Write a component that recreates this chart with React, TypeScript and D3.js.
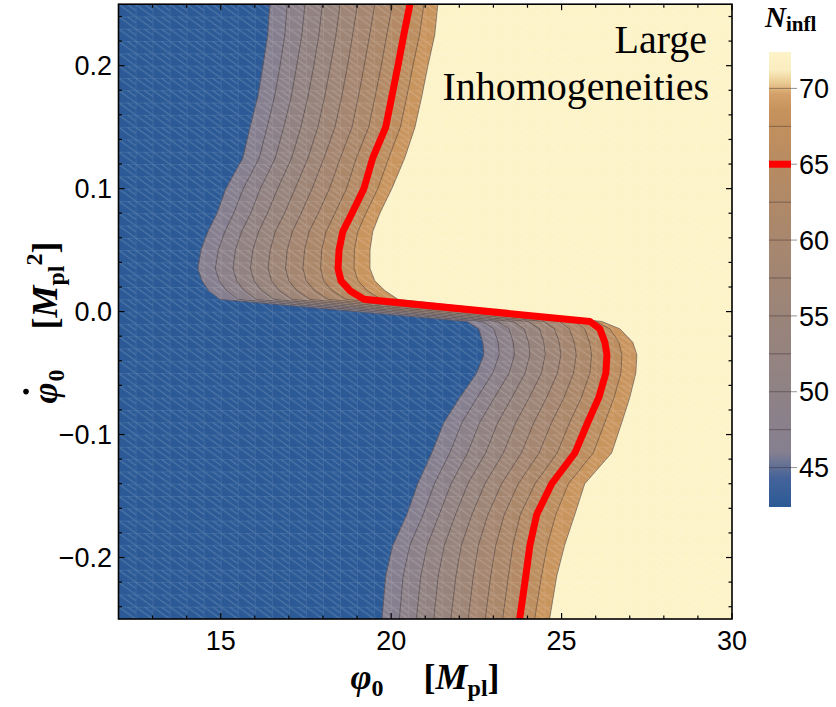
import * as d3 from "d3";

// phi-dot_0 rows (top to bottom) at which every contour's phi_0 position was read
const phiDot0 = [0.25, 0.225, 0.2, 0.175, 0.15, 0.125, 0.1, 0.08, 0.065, 0.05, 0.035, 0.025, 0.017, 0.01,
  -0.008, -0.014, -0.025, -0.035, -0.05, -0.07, -0.09, -0.115, -0.14, -0.165, -0.19, -0.215, -0.25];

// phi_0 position of each N_infl contour, one value per row above
const n45 = [16.44, 16.38, 16.24, 16.09, 15.86, 15.65, 15.15, 14.89, 14.62, 14.42, 14.33, 14.45, 14.65, 14.98,
  22.22, 22.57, 22.69, 22.72, 22.51, 22.01, 21.55, 21.19, 20.78, 20.46, 20.05, 19.84, 19.73];
const n47_5 = [16.95, 16.88, 16.74, 16.58, 16.36, 16.13, 15.66, 15.38, 15.12, 14.93, 14.84, 14.96, 15.17, 15.51,
  22.67, 23.01, 23.14, 23.17, 22.98, 22.52, 22.08, 21.72, 21.27, 20.94, 20.55, 20.35, 20.24];
const n50 = [17.47, 17.38, 17.23, 17.07, 16.85, 16.6, 16.16, 15.88, 15.61, 15.43, 15.36, 15.47, 15.69, 16.04,
  23.12, 23.46, 23.58, 23.62, 23.46, 23.03, 22.6, 22.24, 21.76, 21.41, 21.06, 20.87, 20.74];
const n52_5 = [17.98, 17.88, 17.73, 17.56, 17.35, 17.08, 16.67, 16.37, 16.11, 15.94, 15.87, 15.98, 16.2, 16.56,
  23.57, 23.9, 24.03, 24.07, 23.93, 23.54, 23.13, 22.77, 22.25, 21.89, 21.56, 21.38, 21.25];
const n55 = [18.5, 18.38, 18.22, 18.05, 17.85, 17.56, 17.18, 16.87, 16.6, 16.45, 16.39, 16.49, 16.72, 17.09,
  24.03, 24.35, 24.48, 24.52, 24.41, 24.05, 23.66, 23.29, 22.75, 22.37, 22.06, 21.9, 21.75];
const n57_5 = [19.01, 18.87, 18.72, 18.55, 18.35, 18.03, 17.68, 17.36, 17.1, 16.95, 16.9, 17.0, 17.24, 17.62,
  24.48, 24.79, 24.93, 24.98, 24.88, 24.56, 24.19, 23.82, 23.24, 22.84, 22.56, 22.41, 22.26];
const n60 = [19.52, 19.37, 19.21, 19.04, 18.85, 18.51, 18.19, 17.86, 17.59, 17.46, 17.41, 17.51, 17.76, 18.15,
  24.93, 25.23, 25.37, 25.43, 25.35, 25.07, 24.71, 24.34, 23.73, 23.32, 23.07, 22.92, 22.76];
const n62_5 = [20.04, 19.87, 19.71, 19.53, 19.34, 18.98, 18.69, 18.35, 18.09, 17.96, 17.93, 18.02, 18.27, 18.67,
  25.38, 25.68, 25.82, 25.88, 25.83, 25.58, 25.24, 24.87, 24.22, 23.79, 23.57, 23.44, 23.27];
const n65 = [20.55, 20.37, 20.2, 20.02, 19.84, 19.46, 19.2, 18.85, 18.58, 18.47, 18.44, 18.53, 18.79, 19.2,
  25.83, 26.12, 26.27, 26.33, 26.3, 26.09, 25.77, 25.39, 24.71, 24.27, 24.07, 23.95, 23.77];
const n67_5 = [20.96, 20.83, 20.64, 20.46, 20.27, 19.93, 19.61, 19.26, 19.02, 18.92, 18.91, 19.03, 19.3, 19.7,
  26.0, 26.42, 26.68, 26.77, 26.74, 26.54, 26.27, 25.93, 25.2, 24.83, 24.58, 24.41, 24.21];
const n70 = [21.37, 21.28, 21.08, 20.9, 20.7, 20.4, 20.02, 19.67, 19.46, 19.38, 19.38, 19.52, 19.82, 20.2,
  26.18, 26.71, 27.09, 27.21, 27.18, 27.0, 26.77, 26.47, 25.68, 25.39, 25.09, 24.86, 24.65];

const levels = [45, 47.5, 50, 52.5, 55, 57.5, 60, 62.5, 65, 67.5, 70];
const contourX = [n45, n47_5, n50, n52_5, n55, n57_5, n60, n62_5, n65, n67_5, n70];
const redLevel = 65;

const xTicks = [15, 20, 25, 30];
const yTicks = [-0.2, -0.1, 0, 0.1, 0.2];
const legendTicks = [45, 50, 55, 60, 65, 70];

// colour function of N_infl
const nStops = [42.4, 44.3, 46, 50, 55, 60, 65, 68.5, 69.6, 70.4, 71.2, 72.4];
const colorStops = ["#2b5a96", "#44639a", "#857f90", "#8f8285", "#9a8479", "#a8876e", "#b78b62",
  "#c6925c", "#d2a068", "#eacb93", "#faedc0", "#fdf3c8"];

const sans = "'Liberation Sans', Arial, sans-serif";
const serif = "'Liberation Serif', 'Times New Roman', serif";

export default function App() {
  const x = d3.scaleLinear().domain([12, 30]).range([118.5, 732]);
  const y = d3.scaleLinear().domain([-0.25, 0.25]).range([619, 4.2]);
  const yN = d3.scaleLinear().domain([42.4, 72.4]).range([507, 52]);
  const color = d3.scaleLinear<string>().domain(nStops).range(colorStops).interpolate(d3.interpolateRgb);

  const [x0, x1] = x.range();
  const [y0, y1] = [y(0.25), y(-0.25)];

  const pts = (xs: number[]) => xs.map((v, i) => [x(v), y(phiDot0[i])] as [number, number]);
  const line = d3.line();
  const band = (a: number[], b: number[]) => line([...pts(a), ...pts(b).reverse()]) + "Z";
  const rightSide = pts(n70).concat([[x1, y1], [x1, y0]]);

  const cellW = x(12.5) - x(12);
  const cellH = y(0) - y(0.01);

  const xMinor = d3.range(13, 30).filter((v) => v % 5 !== 0);
  const yMinor = d3.range(-12, 13).map((k) => k * 0.02).filter((v) => Math.abs(Math.round(v * 100)) % 10 !== 0);

  const fmtY = (v: number) => (v < 0 ? "\u2212" : "") + Math.abs(v).toFixed(1);

  return (
    <svg width={836} height={707} style={{ position: "absolute", left: 0, top: 0, background: "#fff" }}>
      <defs>
        <clipPath id="plotClip">
          <rect x={x0} y={y0} width={x1 - x0} height={y1 - y0} />
        </clipPath>
        <pattern id="mesh" patternUnits="userSpaceOnUse" x={x0} y={y0} width={cellW} height={cellH}>
          <path d={`M0,0H${cellW}M0,0V${cellH}M0,0L${cellW},${cellH}M${cellW / 2},0L${cellW},${cellH / 2}`}
            stroke="#fff" strokeOpacity={0.18} strokeWidth={1} fill="none" />
        </pattern>
        <linearGradient id="barGrad" x1="0" y1="1" x2="0" y2="0">
          {nStops.map((n, i) => (
            <stop key={i} offset={(n - 42.4) / 30} stopColor={colorStops[i]} />
          ))}
        </linearGradient>
      </defs>

      <g clipPath="url(#plotClip)">
        <rect x={x0} y={y0} width={x1 - x0} height={y1 - y0} fill={color(42.4)} />
        {levels.slice(0, -1).map((lv, i) => (
          <path key={lv} d={band(contourX[i], contourX[i + 1])} fill={color((lv + levels[i + 1]) / 2)}
            stroke={color((lv + levels[i + 1]) / 2)} strokeWidth={0.5} />
        ))}
        <path d={line(rightSide) + "Z"} fill={color(72.4)} />
        <rect x={x0} y={y0} width={x1 - x0} height={y1 - y0} fill="url(#mesh)" />
        {levels.filter((lv) => lv !== redLevel).map((lv) => (
          <path key={lv} d={line(pts(contourX[levels.indexOf(lv)])) ?? ""} fill="none"
            stroke="#3a3030" strokeOpacity={0.55} strokeWidth={0.8} />
        ))}
        <path d={line(pts(n65)) ?? ""} fill="none" stroke="#ff0000" strokeWidth={7}
          strokeLinejoin="round" />
      </g>

      {/* frame and ticks */}
      <g stroke="#000" strokeWidth={1.2}>
        {xTicks.map((v) => (
          <g key={v}>
            <line x1={x(v)} x2={x(v)} y1={y1} y2={y1 - 6} />
            <line x1={x(v)} x2={x(v)} y1={y0} y2={y0 + 6} />
          </g>
        ))}
        {xMinor.map((v) => (
          <g key={v}>
            <line x1={x(v)} x2={x(v)} y1={y1} y2={y1 - 3.5} />
            <line x1={x(v)} x2={x(v)} y1={y0} y2={y0 + 3.5} />
          </g>
        ))}
        {yTicks.map((v) => (
          <g key={v}>
            <line x1={x0} x2={x0 + 6} y1={y(v)} y2={y(v)} />
            <line x1={x1} x2={x1 - 6} y1={y(v)} y2={y(v)} />
          </g>
        ))}
        {yMinor.map((v) => (
          <g key={v}>
            <line x1={x0} x2={x0 + 3.5} y1={y(v)} y2={y(v)} />
            <line x1={x1} x2={x1 - 3.5} y1={y(v)} y2={y(v)} />
          </g>
        ))}
      </g>
      <rect x={x0} y={y0} width={x1 - x0} height={y1 - y0} fill="none" stroke="#000" strokeWidth={1.6} />

      {/* tick labels */}
      <g fontFamily={sans} fontSize={27} fill="#000">
        {xTicks.map((v) => (
          <text key={v} x={x(v)} y={650} textAnchor="middle">{v}</text>
        ))}
        {yTicks.map((v) => (
          <text key={v} x={112} y={y(v) + 9.7} textAnchor="end">{fmtY(v)}</text>
        ))}
      </g>

      {/* axis titles */}
      <text x={425} y={689} textAnchor="middle" fontFamily={serif} fontSize={36} fontWeight="bold">
        <tspan fontStyle="italic">φ</tspan>
        <tspan fontSize={24} dy={7}>0</tspan>
        <tspan dx={40} dy={-7}>[</tspan>
        <tspan fontStyle="italic">M</tspan>
        <tspan fontSize={24} dy={7}>pl</tspan>
        <tspan dy={-7}>]</tspan>
      </text>
      <g transform={`translate(57, ${(y0 + y1) / 2}) rotate(-90)`} fontFamily={serif} fontSize={36} fontWeight="bold">
        <text x={-92} y={0} fontStyle="italic">φ</text>
        <circle cx={-80} cy={-31} r={2.8} fill="#000" />
        <text x={-70} y={7} fontSize={24}>0</text>
        <text x={-18} y={0}>
          <tspan>[</tspan>
          <tspan fontStyle="italic">M</tspan>
          <tspan fontSize={24} dy={7}>pl</tspan>
          <tspan fontSize={24} dy={-22}>2</tspan>
          <tspan dy={15}>]</tspan>
        </text>
      </g>

      {/* annotation */}
      <g fontFamily={serif} fontSize={40} textAnchor="end" fill="#000">
        <text x={707} y={53}>Large</text>
        <text x={709} y={100}>Inhomogeneities</text>
      </g>

      {/* colour bar */}
      <rect x={769} y={yN(72.4)} width={22} height={yN(42.4) - yN(72.4)} fill="url(#barGrad)" />
      {levels.filter((lv) => lv !== redLevel).map((lv) => (
        <line key={lv} x1={769} x2={791} y1={yN(lv)} y2={yN(lv)} stroke="#3a3030" strokeOpacity={0.6} strokeWidth={0.8} />
      ))}
      <rect x={769} y={yN(redLevel) - 3.5} width={22} height={7} fill="#ff0000" />
      {legendTicks.map((v) => (
        <g key={v}>
          <line x1={791} x2={797} y1={yN(v)} y2={yN(v)} stroke="#777" strokeWidth={0.8} />
          <text x={799} y={yN(v) + 9.7} fontFamily={sans} fontSize={27} fill="#000">{v}</text>
        </g>
      ))}
      <text x={765} y={27} fontFamily={serif} fontWeight="bold" fontSize={29}>
        <tspan fontStyle="italic">N</tspan>
        <tspan fontSize={21} dy={4}>infl</tspan>
      </text>
    </svg>
  );
}
